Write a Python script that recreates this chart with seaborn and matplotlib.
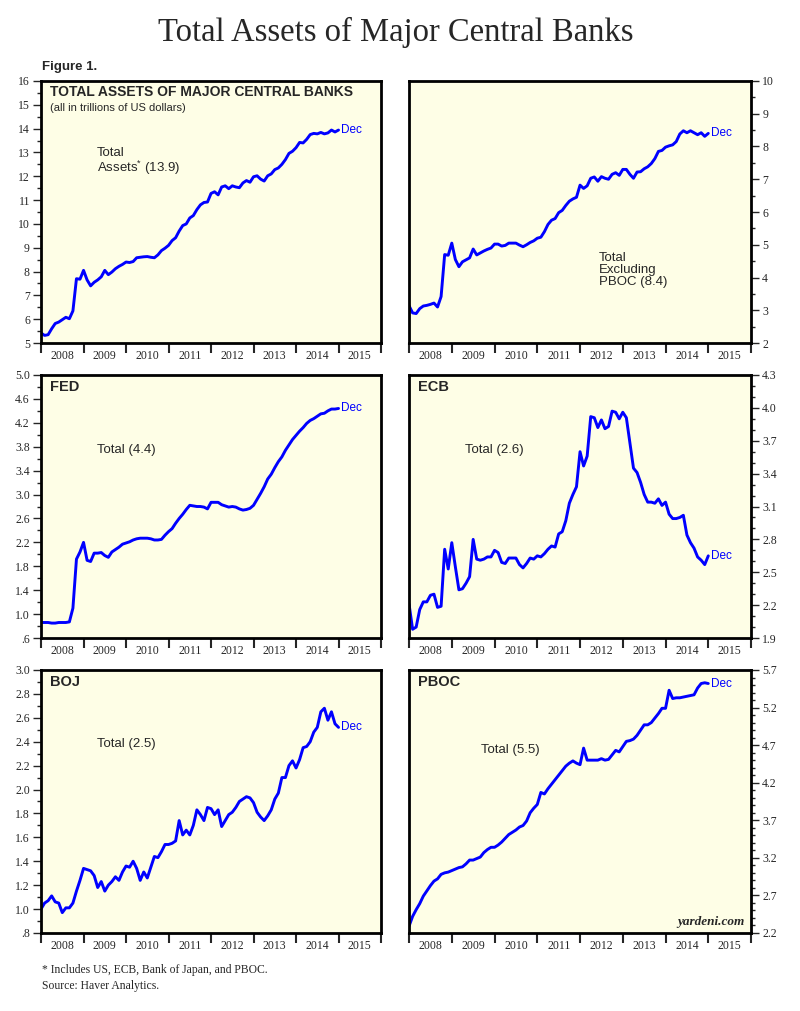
import numpy as np
import pandas as pd
import matplotlib
matplotlib.use("Agg")
import matplotlib.pyplot as plt
import seaborn as sns
from matplotlib.ticker import FixedLocator, FuncFormatter

# monthly values, Jan 2008 .. Dec 2014 plus one end point (trillions of US$)
total_assets = [5.42, 5.32, 5.35, 5.6, 5.82, 5.88, 5.98, 6.08, 6.02, 6.35, 7.7, 7.68,
                8.05, 7.65, 7.4, 7.55, 7.65, 7.78, 8.05, 7.87, 7.98, 8.12, 8.22, 8.3,
                8.4, 8.38, 8.42, 8.58, 8.6, 8.62, 8.63, 8.6, 8.58, 8.7, 8.88, 8.98,
                9.1, 9.3, 9.42, 9.7, 9.93, 10.0, 10.25, 10.35, 10.6, 10.8, 10.9, 10.92,
                11.28, 11.35, 11.22, 11.55, 11.6, 11.48, 11.6, 11.55, 11.52, 11.72, 11.82, 11.75,
                11.98, 12.02, 11.88, 11.8, 12.02, 12.1, 12.28, 12.35, 12.5, 12.7, 12.96, 13.05,
                13.2, 13.42, 13.4, 13.55, 13.75, 13.8, 13.78, 13.84, 13.78, 13.82, 13.94, 13.86,
                13.94]
ex_pboc = [3.14, 2.92, 2.9, 3.05, 3.13, 3.15, 3.18, 3.22, 3.1, 3.42, 4.7, 4.68,
           5.05, 4.55, 4.33, 4.48, 4.54, 4.6, 4.87, 4.69, 4.75, 4.81, 4.86, 4.9,
           5.02, 5.02, 4.96, 4.98, 5.05, 5.05, 5.05, 4.99, 4.94, 5.0, 5.07, 5.12,
           5.2, 5.23, 5.4, 5.62, 5.75, 5.8, 5.98, 6.05, 6.2, 6.33, 6.4, 6.45,
           6.82, 6.72, 6.8, 7.03, 7.07, 6.94, 7.08, 7.03, 7.0, 7.15, 7.2, 7.12,
           7.3, 7.3, 7.15, 7.03, 7.22, 7.23, 7.32, 7.38, 7.48, 7.63, 7.85, 7.88,
           7.98, 8.02, 8.05, 8.15, 8.38, 8.48, 8.42, 8.48, 8.42, 8.36, 8.42, 8.31,
           8.4]
fed = [0.86, 0.86, 0.86, 0.85, 0.85, 0.86, 0.86, 0.86, 0.87, 1.1, 1.92, 2.04,
       2.2, 1.9, 1.88, 2.02, 2.02, 2.03, 1.98, 1.95, 2.04, 2.08, 2.12, 2.17,
       2.19, 2.21, 2.24, 2.26, 2.27, 2.27, 2.27, 2.26, 2.24, 2.24, 2.25, 2.32,
       2.38, 2.43, 2.52, 2.6, 2.67, 2.75, 2.82, 2.81, 2.8, 2.8, 2.79, 2.76,
       2.87, 2.87, 2.87, 2.83, 2.81, 2.79, 2.8, 2.79, 2.76, 2.74, 2.75, 2.77,
       2.82, 2.92, 3.02, 3.13, 3.26, 3.34, 3.45, 3.55, 3.63, 3.74, 3.83, 3.92,
       3.99, 4.06, 4.12, 4.19, 4.24, 4.27, 4.31, 4.35, 4.36, 4.4, 4.43, 4.43,
       4.44]
ecb = [2.21, 1.98, 2.0, 2.16, 2.23, 2.23, 2.29, 2.3, 2.18, 2.19, 2.71, 2.53,
       2.77, 2.55, 2.34, 2.35, 2.4, 2.46, 2.8, 2.62, 2.61, 2.62, 2.64, 2.64,
       2.7, 2.68, 2.59, 2.58, 2.63, 2.63, 2.63, 2.57, 2.54, 2.58, 2.63, 2.62,
       2.65, 2.64, 2.67, 2.71, 2.74, 2.73, 2.85, 2.87, 2.97, 3.13, 3.21, 3.28,
       3.6, 3.47, 3.56, 3.92, 3.91, 3.82, 3.89, 3.81, 3.83, 3.97, 3.96, 3.9,
       3.96, 3.91, 3.68, 3.45, 3.41, 3.32, 3.21, 3.14, 3.14, 3.13, 3.17, 3.11,
       3.14, 3.03, 2.99, 2.99, 3.0, 3.02, 2.84, 2.77, 2.72, 2.64, 2.61, 2.57,
       2.65]
boj = [1.0, 1.05, 1.07, 1.11, 1.06, 1.05, 0.97, 1.01, 1.01, 1.05, 1.15, 1.24,
       1.34, 1.33, 1.32, 1.28, 1.18, 1.23, 1.15, 1.2, 1.23, 1.27, 1.24, 1.31,
       1.36, 1.35, 1.4, 1.34, 1.24, 1.31, 1.26, 1.35, 1.44, 1.43, 1.48, 1.54,
       1.54, 1.55, 1.57, 1.74, 1.62, 1.66, 1.62, 1.7, 1.83, 1.79, 1.74, 1.85,
       1.84, 1.79, 1.83, 1.69, 1.74, 1.79, 1.81, 1.85, 1.9, 1.92, 1.94, 1.93,
       1.89, 1.81, 1.77, 1.74, 1.78, 1.83, 1.92, 1.97, 2.1, 2.1, 2.2, 2.24,
       2.18, 2.25, 2.35, 2.36, 2.4, 2.48, 2.52, 2.65, 2.68, 2.58, 2.65, 2.55,
       2.52]
pboc = [2.29, 2.42, 2.51, 2.59, 2.69, 2.76, 2.83, 2.89, 2.92, 2.98, 3.0, 3.01,
        3.03, 3.05, 3.07, 3.08, 3.12, 3.17, 3.17, 3.19, 3.21, 3.27, 3.31, 3.34,
        3.34, 3.37, 3.41, 3.46, 3.51, 3.54, 3.57, 3.61, 3.63, 3.69, 3.8, 3.86,
        3.91, 4.07, 4.05, 4.12, 4.18, 4.24, 4.3, 4.36, 4.42, 4.46, 4.49, 4.46,
        4.44, 4.66, 4.5, 4.5, 4.5, 4.5, 4.52, 4.5, 4.51, 4.57, 4.63, 4.61,
        4.68, 4.75, 4.76, 4.78, 4.83, 4.9, 4.97, 4.97, 5.0, 5.06, 5.12, 5.19,
        5.19, 5.43, 5.32, 5.33, 5.33, 5.34, 5.35, 5.36, 5.37, 5.46, 5.52, 5.53,
        5.52]

years = list(range(2008, 2016))
t = 2008 + np.arange(len(fed)) / 12.0

BLUE = "#0000ff"
BG = "#fefee6"
SERIF = "Liberation Serif"
SANS = "Liberation Sans"

sns.set_style("ticks")
plt.rcParams["font.family"] = [SANS, "DejaVu Sans"]
plt.rcParams["mathtext.fontset"] = "custom"
plt.rcParams["mathtext.rm"] = SANS

fig = plt.figure(figsize=(8, 10.11), dpi=100)

fig.text(0.495, 0.968, "Total Assets of Major Central Banks", ha="center", va="center",
         family=SERIF, fontsize=23.5)
fig.text(0.052, 0.934, "Figure 1.", ha="left", va="center", fontsize=9.5, fontweight="bold")

# panel config: values, ylim, major step, minor step, right axis, box
panels = [
    (total_assets, (5, 16), 1, 0.5, False, [0.0513, 0.6607, 0.425, 0.2592]),
    (ex_pboc, (2, 10), 1, 0.5, True, [0.5113, 0.6607, 0.4275, 0.2592]),
    (fed, (0.6, 5.0), 0.4, 0.2, False, [0.0513, 0.3689, 0.425, 0.2602]),
    (ecb, (1.9, 4.3), 0.3, 0.1, True, [0.5113, 0.3689, 0.4275, 0.2602]),
    (boj, (0.8, 3.0), 0.2, 0.1, False, [0.0513, 0.0772, 0.425, 0.2601]),
    (pboc, (2.2, 5.7), 0.5, 0.1, True, [0.5113, 0.0772, 0.4275, 0.2601]),
]


def ylabel(v, pos):
    s = f"{v:.1f}"
    return s.lstrip("0") if v < 1 else s


axes = []
for vals, ylim, major, minor, right, box in panels:
    ax = fig.add_axes(box)
    df = pd.DataFrame({"t": t, "v": vals})
    sns.lineplot(data=df, x="t", y="v", ax=ax, color=BLUE, linewidth=2.1)
    ax.set_facecolor(BG)
    ax.set_xlim(2008, 2016)
    ax.set_ylim(*ylim)
    ax.set_xlabel("")
    ax.set_ylabel("")
    for s in ax.spines.values():
        s.set_linewidth(2)
        s.set_color("black")

    ax.set_xticks(years + [2016])
    ax.set_xticklabels([])
    ax.set_xticks([y + 0.5 for y in years], minor=True)
    ax.set_xticklabels([str(y) for y in years], minor=True, family=SERIF, fontsize=8.5)
    ax.tick_params(axis="x", which="major", direction="out", length=7, width=1.5)
    ax.tick_params(axis="x", which="minor", length=0, pad=5)

    lo, hi = ylim
    ax.yaxis.set_major_locator(FixedLocator(np.arange(lo, hi + 1e-6, major)))
    ax.yaxis.set_minor_locator(FixedLocator(np.arange(lo, hi + 1e-6, minor)))
    if major >= 1:
        ax.yaxis.set_major_formatter(FuncFormatter(lambda v, p: f"{v:.0f}"))
    else:
        ax.yaxis.set_major_formatter(FuncFormatter(ylabel))
    if right:
        ax.yaxis.tick_right()
    ax.tick_params(axis="y", which="major", direction="out", length=6, width=1, pad=2)
    ax.tick_params(axis="y", which="minor", direction="out", length=3, width=1)
    for lab in ax.get_yticklabels():
        lab.set_family(SERIF)
        lab.set_fontsize(8.5)

    ax.annotate("Dec", (t[-1], vals[-1]), xytext=(2, 0), textcoords="offset points",
                va="center", ha="left", color=BLUE, fontsize=8.5)
    axes.append(ax)

ax1, ax2, ax3, ax4, ax5, ax6 = axes

ax1.text(0.026, 0.958, "TOTAL ASSETS OF MAJOR CENTRAL BANKS", transform=ax1.transAxes,
         ha="left", va="center", fontsize=10, fontweight="bold")
ax1.text(0.026, 0.897, "(all in trillions of US dollars)", transform=ax1.transAxes,
         ha="left", va="center", fontsize=8)
ax1.text(0.165, 0.748, "Total\nAssets$^{*}$ (13.9)", transform=ax1.transAxes,
         ha="left", va="top", fontsize=9.5, linespacing=1.0)
ax2.text(0.556, 0.348, "Total\nExcluding\nPBOC (8.4)", transform=ax2.transAxes,
         ha="left", va="top", fontsize=9.5, linespacing=1.0)

for ax, name, label, lx, ly in [
    (ax3, "FED", "Total (4.4)", 0.165, 0.715),
    (ax4, "ECB", "Total (2.6)", 0.164, 0.715),
    (ax5, "BOJ", "Total (2.5)", 0.165, 0.719),
    (ax6, "PBOC", "Total (5.5)", 0.21, 0.696),
]:
    ax.text(0.026, 0.954, name, transform=ax.transAxes, ha="left", va="center",
            fontsize=10.5, fontweight="bold")
    ax.text(lx, ly, label, transform=ax.transAxes, ha="left", va="center", fontsize=9.5)

ax6.text(0.98, 0.04, "yardeni.com", transform=ax6.transAxes, ha="right", va="center",
         family=SERIF, style="italic", fontweight="bold", fontsize=9.5)

fig.text(0.052, 0.041, "* Includes US, ECB, Bank of Japan, and PBOC.", family=SERIF,
         fontsize=8.4, ha="left", va="center")
fig.text(0.052, 0.025, "Source: Haver Analytics.", family=SERIF, fontsize=8.4,
         ha="left", va="center")

fig.savefig("out.png", dpi=100, facecolor="white")
